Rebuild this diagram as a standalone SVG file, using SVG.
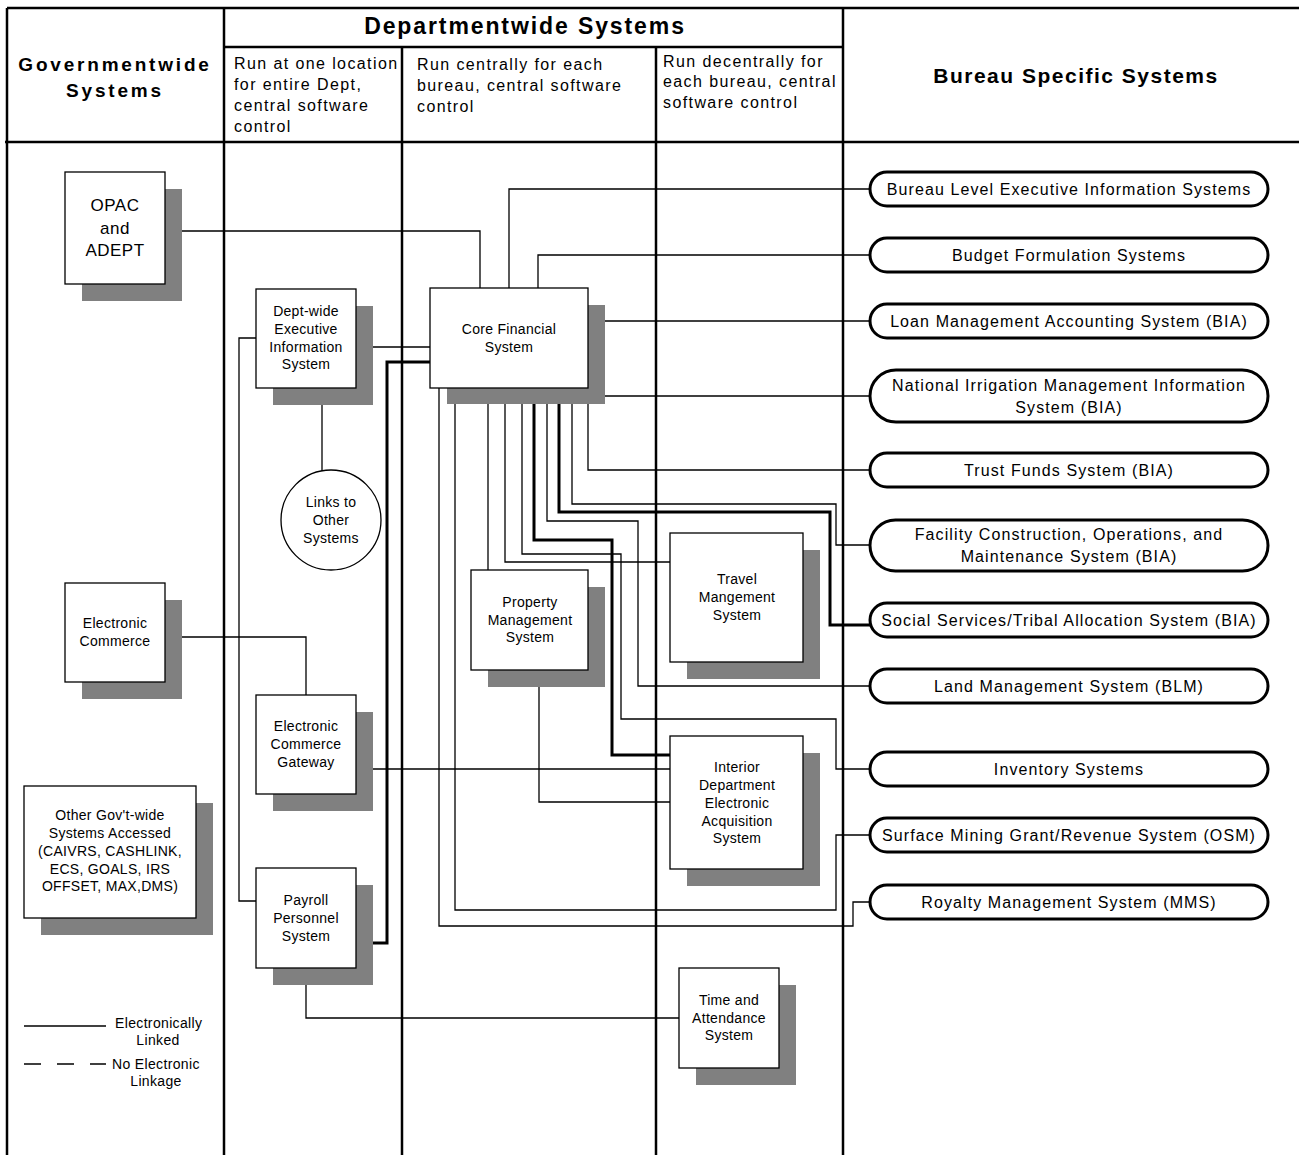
<svg xmlns="http://www.w3.org/2000/svg" width="1299" height="1155" viewBox="0 0 1299 1155">
<style>
text{font-family:"Liberation Sans",Arial,sans-serif;fill:#000}
.g{stroke:#000;stroke-width:2.5;fill:none}
.c{stroke:#000;stroke-width:1.3;fill:none}
.ct{stroke:#000;stroke-width:3;fill:none}
.box{fill:#fff;stroke:#000;stroke-width:1.3}
.sh{fill:#808080}
.bs{fill:#fff;stroke:#000;stroke-width:3}
.t{font-size:14px;letter-spacing:0.3px;text-anchor:middle}
.tb{font-size:16px;letter-spacing:1.1px;text-anchor:middle}
.th{font-size:16px;letter-spacing:1.4px}
.tl{font-size:14px;letter-spacing:0.35px}
</style>
<rect x="0" y="0" width="1299" height="1155" fill="#fff"/>
<g id="grid">
<path class="g" d="M7,8 H1299 M5,142 H1299 M224,47 H843 M7,8 V1155 M224,8 V1155 M402,47 V1155 M656,47 V1155 M843,8 V1155"/>
<text x="115" y="71" font-size="19" font-weight="bold" letter-spacing="2.8" text-anchor="middle">Governmentwide</text>
<text x="115" y="97" font-size="19" font-weight="bold" letter-spacing="2.8" text-anchor="middle">Systems</text>
<text x="525" y="34" font-size="23" font-weight="bold" letter-spacing="1.9" text-anchor="middle">Departmentwide Systems</text>
<text x="1076" y="83" font-size="21" font-weight="bold" letter-spacing="1.5" text-anchor="middle">Bureau Specific Systems</text>
<text class="th" x="234" y="69">Run at one location</text>
<text class="th" x="234" y="90">for entire Dept,</text>
<text class="th" x="234" y="111">central software</text>
<text class="th" x="234" y="132">control</text>
<text class="th" x="417" y="70">Run centrally for each</text>
<text class="th" x="417" y="91">bureau, central software</text>
<text class="th" x="417" y="112">control</text>
<text class="th" x="663" y="67">Run decentrally for</text>
<text class="th" x="663" y="87">each bureau, central</text>
<text class="th" x="663" y="108">software control</text>
</g>
<g id="connectors">
<path class="c" d="M165,231 H480 V288"/>
<path class="c" d="M509,288 V189 H870"/>
<path class="c" d="M538,288 V255 H870"/>
<path class="c" d="M588,321 H870"/>
<path class="c" d="M598,396 H870"/>
<path class="c" d="M588,388 V470 H870"/>
<path class="c" d="M572,388 V504 H836 V545 H870"/>
<path class="ct" d="M559,388 V512 H830 V625 H870"/>
<path class="c" d="M547,388 V521 H638 V686 H870"/>
<path class="ct" d="M534,388 V540 H612 V755 H670"/>
<path class="c" d="M522,388 V554 H621 V719 H836 V769 H870"/>
<path class="c" d="M505,388 V562 H670"/>
<path class="c" d="M488,388 V570"/>
<path class="c" d="M455,388 V910 H836 V835 H870"/>
<path class="c" d="M439,388 V926 H853 V902 H870"/>
<path class="c" d="M356,347 H430"/>
<path class="ct" d="M356,943 H387 V362 H430"/>
<path class="c" d="M256,338 H239 V901 H256"/>
<path class="c" d="M322,388 V471"/>
<path class="c" d="M165,637 H306 V695"/>
<path class="c" d="M356,769 H670"/>
<path class="c" d="M539,670 V802 H670"/>
<path class="c" d="M306,968 V1018 H679"/>
</g>
<g id="opac">
<rect class="sh" x="82" y="189" width="100" height="112"/>
<rect class="box" x="65" y="172" width="100" height="112"/>
<text x="115" y="211" font-size="17" letter-spacing="0.5" text-anchor="middle">OPAC</text>
<text x="115" y="234" font-size="17" letter-spacing="0.5" text-anchor="middle">and</text>
<text x="115" y="256" font-size="17" letter-spacing="0.5" text-anchor="middle">ADEPT</text>
</g>
<g id="electronic-commerce">
<rect class="sh" x="82" y="600" width="100" height="99"/>
<rect class="box" x="65" y="583" width="100" height="99"/>
<text class="t" x="115" y="628">Electronic</text>
<text class="t" x="115" y="646">Commerce</text>
</g>
<g id="other-govwide">
<rect class="sh" x="41" y="803" width="172" height="132"/>
<rect class="box" x="24" y="786" width="172" height="132"/>
<text class="t" x="110" y="820">Other Gov't-wide</text>
<text class="t" x="110" y="838">Systems Accessed</text>
<text class="t" x="110" y="856">(CAIVRS, CASHLINK,</text>
<text class="t" x="110" y="874">ECS, GOALS, IRS</text>
<text class="t" x="110" y="891">OFFSET, MAX,DMS)</text>
</g>
<g id="dept-eis">
<rect class="sh" x="273" y="306" width="100" height="99"/>
<rect class="box" x="256" y="289" width="100" height="99"/>
<text class="t" x="306" y="316">Dept-wide</text>
<text class="t" x="306" y="334">Executive</text>
<text class="t" x="306" y="352">Information</text>
<text class="t" x="306" y="369">System</text>
</g>
<g id="links-other">
<circle class="box" cx="331" cy="520" r="50"/>
<text class="t" x="331" y="507">Links to</text>
<text class="t" x="331" y="525">Other</text>
<text class="t" x="331" y="543">Systems</text>
</g>
<g id="ec-gateway">
<rect class="sh" x="273" y="712" width="100" height="99"/>
<rect class="box" x="256" y="695" width="100" height="99"/>
<text class="t" x="306" y="731">Electronic</text>
<text class="t" x="306" y="749">Commerce</text>
<text class="t" x="306" y="767">Gateway</text>
</g>
<g id="payroll">
<rect class="sh" x="273" y="885" width="100" height="100"/>
<rect class="box" x="256" y="868" width="100" height="100"/>
<text class="t" x="306" y="905">Payroll</text>
<text class="t" x="306" y="923">Personnel</text>
<text class="t" x="306" y="941">System</text>
</g>
<g id="core-financial">
<rect class="sh" x="447" y="305" width="158" height="99"/>
<rect class="box" x="430" y="288" width="158" height="100"/>
<text class="t" x="509" y="334">Core Financial</text>
<text class="t" x="509" y="352">System</text>
</g>
<g id="property">
<rect class="sh" x="488" y="587" width="117" height="100"/>
<rect class="box" x="471" y="570" width="117" height="100"/>
<text class="t" x="530" y="607">Property</text>
<text class="t" x="530" y="625">Management</text>
<text class="t" x="530" y="642">System</text>
</g>
<g id="travel">
<rect class="sh" x="687" y="550" width="133" height="129"/>
<rect class="box" x="670" y="533" width="133" height="129"/>
<text class="t" x="737" y="584">Travel</text>
<text class="t" x="737" y="602">Mangement</text>
<text class="t" x="737" y="620">System</text>
</g>
<g id="idea">
<rect class="sh" x="687" y="753" width="133" height="133"/>
<rect class="box" x="670" y="736" width="133" height="133"/>
<text class="t" x="737" y="772">Interior</text>
<text class="t" x="737" y="790">Department</text>
<text class="t" x="737" y="808">Electronic</text>
<text class="t" x="737" y="826">Acquisition</text>
<text class="t" x="737" y="843">System</text>
</g>
<g id="time-attendance">
<rect class="sh" x="696" y="985" width="100" height="100"/>
<rect class="box" x="679" y="968" width="100" height="100"/>
<text class="t" x="729" y="1005">Time and</text>
<text class="t" x="729" y="1023">Attendance</text>
<text class="t" x="729" y="1040">System</text>
</g>
<g id="b-eis"><rect class="bs" x="870" y="172" width="398" height="34" rx="17"/><text class="tb" x="1069" y="195">Bureau Level Executive Information Systems</text></g>
<g id="b-budget"><rect class="bs" x="870" y="238" width="398" height="34" rx="17"/><text class="tb" x="1069" y="261">Budget Formulation Systems</text></g>
<g id="b-loan"><rect class="bs" x="870" y="304" width="398" height="34" rx="17"/><text class="tb" x="1069" y="327">Loan Management Accounting System (BIA)</text></g>
<g id="b-nimis"><rect class="bs" x="870" y="370" width="398" height="52" rx="26"/><text class="tb" x="1069" y="391">National Irrigation Management Information</text><text class="tb" x="1069" y="413">System (BIA)</text></g>
<g id="b-trust"><rect class="bs" x="870" y="453" width="398" height="34" rx="17"/><text class="tb" x="1069" y="476">Trust Funds System (BIA)</text></g>
<g id="b-facility"><rect class="bs" x="870" y="520" width="398" height="51" rx="25.5"/><text class="tb" x="1069" y="540">Facility Construction, Operations, and</text><text class="tb" x="1069" y="562">Maintenance System (BIA)</text></g>
<g id="b-social"><rect class="bs" x="870" y="603" width="398" height="34" rx="17"/><text class="tb" x="1069" y="626">Social Services/Tribal Allocation System (BIA)</text></g>
<g id="b-land"><rect class="bs" x="870" y="669" width="398" height="34" rx="17"/><text class="tb" x="1069" y="692">Land Management System (BLM)</text></g>
<g id="b-inventory"><rect class="bs" x="870" y="752" width="398" height="34" rx="17"/><text class="tb" x="1069" y="775">Inventory Systems</text></g>
<g id="b-surface"><rect class="bs" x="870" y="818" width="398" height="34" rx="17"/><text class="tb" x="1069" y="841">Surface Mining Grant/Revenue System (OSM)</text></g>
<g id="b-royalty"><rect class="bs" x="870" y="885" width="398" height="34" rx="17"/><text class="tb" x="1069" y="908">Royalty Management System (MMS)</text></g>
<g id="legend">
<path class="c" d="M24,1026 H106"/>
<path class="c" d="M24,1064 H106" stroke-dasharray="17 16"/>
<text class="tl" x="115" y="1028">Electronically</text>
<text class="tl" x="158" y="1045" text-anchor="middle">Linked</text>
<text class="tl" x="112" y="1069">No Electronic</text>
<text class="tl" x="156" y="1086" text-anchor="middle">Linkage</text>
</g>
</svg>
